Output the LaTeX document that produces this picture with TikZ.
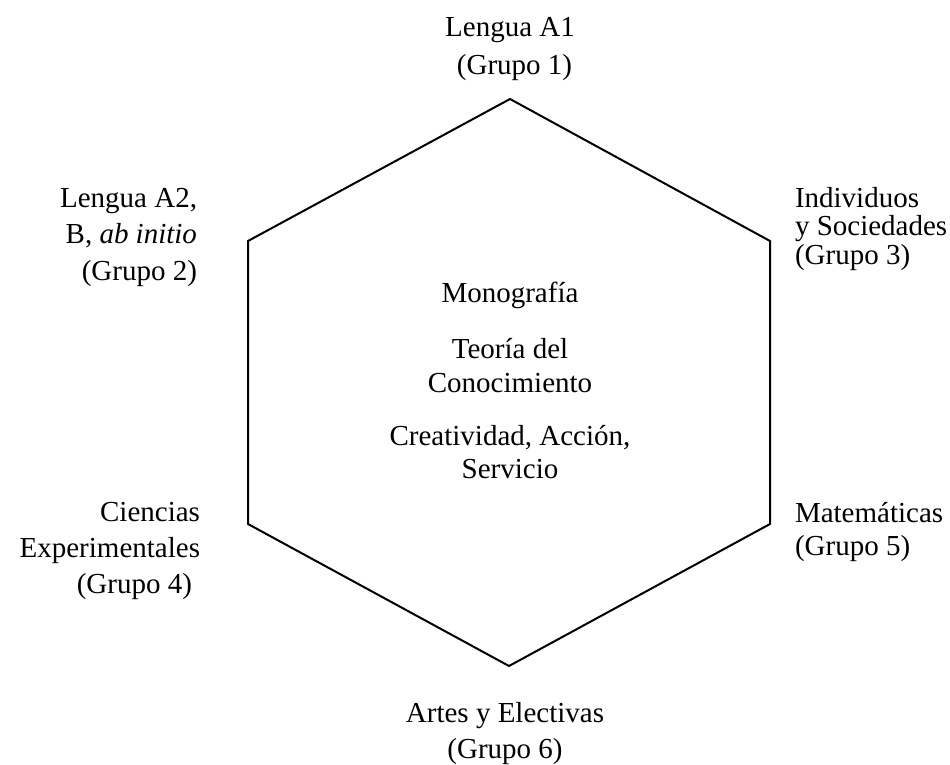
\documentclass[tikz,border=0pt]{standalone}
\usepackage{fontspec}
\setmainfont{Liberation Serif}
\begin{document}
\begin{tikzpicture}[x=1pt,y=-1pt,
  lbl/.style={inner sep=0pt, outer sep=0pt, font=\fontsize{29}{36}\selectfont},
  hexline/.style={line width=2pt, line join=miter}]
\useasboundingbox (0,0) rectangle (950,765);
% hexagon vertices
\coordinate (v1) at (510,99);
\coordinate (v2) at (770,241);
\coordinate (v3) at (770,524);
\coordinate (v4) at (509,666);
\coordinate (v5) at (248,524);
\coordinate (v6) at (248,241);
\draw[hexline] (v1) -- (v2) -- (v3) -- (v4) -- (v5) -- (v6) -- cycle;
% labels (anchor base = baseline of last line)
\node[lbl, font=\fontsize{29}{38}\selectfont, align=center, anchor=base] (g1) at (510,75) {Lengua A1\\\hspace*{9pt}(Grupo 1)};
\node[lbl, font=\fontsize{29}{36.5}\selectfont, align=right, anchor=base east] (g2) at (197,280) {Lengua A2,\\B, \textit{ab initio}\hspace*{14pt}\\(Grupo 2)};
\node[lbl, font=\fontsize{29}{28.5}\selectfont, align=left, anchor=base west] (g3) at (795,264) {Individuos\\y Sociedades\\(Grupo 3)};
\node[lbl, align=right, anchor=base east] (g4) at (200,593) {Ciencias\\Experimentales\hspace*{8pt}\\(Grupo 4)\hspace*{8pt}};
\node[lbl, font=\fontsize{29}{33}\selectfont, align=left, anchor=base west] (g5) at (795,555) {Matemáticas\\(Grupo 5)};
\node[lbl, align=center, anchor=base] (g6) at (505,758) {Artes y Electivas\\(Grupo 6)};
% center
\node[lbl, anchor=base] (mono) at (510,302) {Monografía};
\node[lbl, font=\fontsize{29}{34}\selectfont, align=center, anchor=base] (tok) at (510,392) {Teoría del\\Conocimiento};
\node[lbl, font=\fontsize{29}{33}\selectfont, align=center, anchor=base] (cas) at (510,478) {Creatividad, Acción,\\Servicio};
\end{tikzpicture}
\end{document}
